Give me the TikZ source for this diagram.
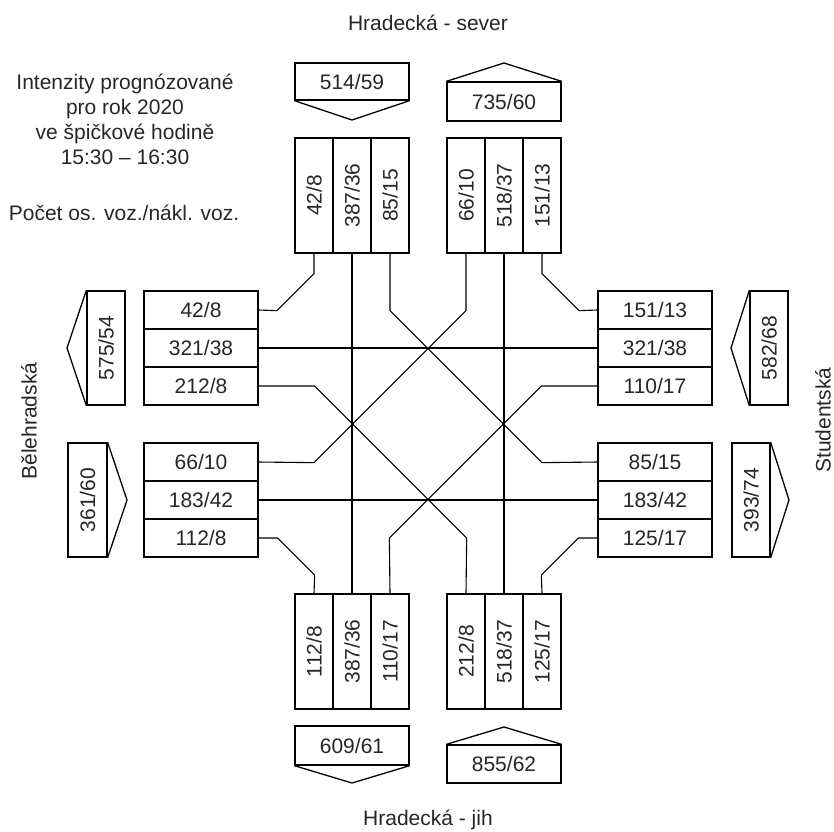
\documentclass[tikz,border=0pt]{standalone}
\usepackage{fontspec}
\setmainfont{Liberation Sans}
\usepackage{graphicx}
\begin{document}
\begin{tikzpicture}[x=1pt,y=-1pt,
  every node/.style={font=\fontsize{21}{25}\selectfont, text=black!85},
  cell/.style={draw, line width=1.3pt, inner sep=0pt, minimum width=114pt, minimum height=38pt},
  vcell/.style={draw, line width=1.3pt, inner sep=0pt, minimum width=38pt, minimum height=115pt},
  hbox/.style={draw, line width=1.3pt, inner sep=0pt, minimum width=114pt},
  sbox/.style={draw, line width=1.3pt, inner sep=0pt, minimum height=114pt},
  conn/.style={line width=1.1pt},
  arr/.style={line width=1.3pt, line join=miter}]
\useasboundingbox (0,0) rectangle (834,831);

% titles
\node (N) at (428,23) {Hradecká - sever};
\node (S) at (428,820) {Hradecká - jih};
\node[rotate=90] (W) at (29,421) {Bělehradská};
\node[rotate=90] (E) at (823,420) {Studentská};
\node[align=center] (info) at (125,119) {Intenzity prognózované\\pro rok 2020\\ve špičkové hodině\\15:30 – 16:30};
\node (legend) at (124,213) {Počet os. voz./nákl. voz.};

% top columns
\node[vcell] (T1) at (314,195.5) {\rotatebox{90}{42/8}};
\node[vcell] (T2) at (352,195.5) {\rotatebox{90}{387/36}};
\node[vcell] (T3) at (390,195.5) {\rotatebox{90}{85/15}};
\node[vcell] (T4) at (466,195.5) {\rotatebox{90}{66/10}};
\node[vcell] (T5) at (504,195.5) {\rotatebox{90}{518/37}};
\node[vcell] (T6) at (542,195.5) {\rotatebox{90}{151/13}};
% bottom columns
\node[vcell] (B1) at (314,651.5) {\rotatebox{90}{112/8}};
\node[vcell] (B2) at (352,651.5) {\rotatebox{90}{387/36}};
\node[vcell] (B3) at (390,651.5) {\rotatebox{90}{110/17}};
\node[vcell] (B4) at (466,651.5) {\rotatebox{90}{212/8}};
\node[vcell] (B5) at (504,651.5) {\rotatebox{90}{518/37}};
\node[vcell] (B6) at (542,651.5) {\rotatebox{90}{125/17}};
% left rows
\node[cell] (L1) at (201,310) {42/8};
\node[cell] (L2) at (201,348) {321/38};
\node[cell] (L3) at (201,386) {212/8};
\node[cell] (L4) at (201,462) {66/10};
\node[cell] (L5) at (201,500) {183/42};
\node[cell] (L6) at (201,538) {112/8};
% right rows
\node[cell] (R1) at (655,310) {151/13};
\node[cell] (R2) at (655,348) {321/38};
\node[cell] (R3) at (655,386) {110/17};
\node[cell] (R4) at (655,462) {85/15};
\node[cell] (R5) at (655,500) {183/42};
\node[cell] (R6) at (655,538) {125/17};

% direction arrows with totals
\node[hbox, minimum height=37pt] (A1) at (352,81.5) {514/59};
\draw[arr] (A1.south west) -- (352,120) -- (A1.south east);
\node[hbox, minimum height=39pt] (A2) at (504,101.5) {735/60};
\draw[arr] (A2.north west) -- (504,63) -- (A2.north east);
\node[hbox, minimum height=39pt] (A3) at (352,745.5) {609/61};
\draw[arr] (A3.south west) -- (352,783) -- (A3.south east);
\node[hbox, minimum height=38pt] (A4) at (504,764) {855/62};
\draw[arr] (A4.north west) -- (504,727) -- (A4.north east);
\node[sbox, minimum width=38pt] (A5) at (106,348) {\rotatebox{90}{575/54}};
\draw[arr] (A5.north west) -- (67,348) -- (A5.south west);
\node[sbox, minimum width=39pt] (A6) at (87.5,500) {\rotatebox{90}{361/60}};
\draw[arr] (A6.north east) -- (127,500) -- (A6.south east);
\node[sbox, minimum width=38pt] (A7) at (769,348) {\rotatebox{90}{582/68}};
\draw[arr] (A7.north west) -- (731,348) -- (A7.south west);
\node[sbox, minimum width=38pt] (A8) at (751,500) {\rotatebox{90}{393/74}};
\draw[arr] (A8.north east) -- (789,500) -- (A8.south east);

% connectors
\draw[conn] (T1.south) -- ++(0,20) -- ++(-37,37) -- (L1.east);
\draw[conn] (T2.south) -- (B2.north);
\draw[conn] (T3.south) -- ++(0,57) -- ++(152,152) -- (R4.west);
\draw[conn] (T4.south) -- ++(0,57) -- ++(-152,152) -- (L4.east);
\draw[conn] (T5.south) -- (B5.north);
\draw[conn] (T6.south) -- ++(0,20) -- ++(37,37) -- (R1.west);
\draw[conn] (L2.east) -- (R2.west);
\draw[conn] (L3.east) -- ++(56,0) -- ++(152,152) -- (B4.north);
\draw[conn] (R3.west) -- ++(-56,0) -- ++(-152,152) -- (B3.north);
\draw[conn] (L5.east) -- (R5.west);
\draw[conn] (L6.east) -- ++(19,0) -- ++(37,37) -- (B1.north);
\draw[conn] (R6.west) -- ++(-19,0) -- ++(-37,37) -- (B6.north);
\end{tikzpicture}
\end{document}
